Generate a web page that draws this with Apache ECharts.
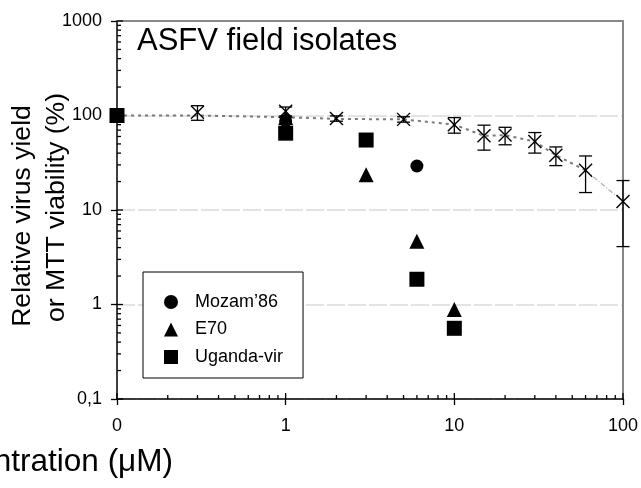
<!DOCTYPE html>
<html>
<head>
<meta charset="utf-8">
<script src="https://cdn.jsdelivr.net/npm/echarts@6/dist/echarts.min.js"></script>
<style>
  html, body { margin: 0; padding: 0; background: #fff; }
  #chart { width: 641px; height: 488px; }
</style>
</head>
<body>
<div id="chart"></div>
<script>
// Axis ticks: the untreated control ("0") sits at 0.1 on the log axis
const xTicks = [0.1, 1, 10, 100];
const xTickLabels = ['0', '1', '10', '100'];
const yTicks = [0.1, 1, 10, 100, 1000];
const yTickLabels = ['0,1', '1', '10', '100', '1000'];

// MTT viability: concentration (µM), mean (%), error (%)
const mttConc = [0.3, 1, 2, 5, 10, 15, 20, 30, 40, 60, 100];
const mttMean = [108, 111, 93, 91, 80, 61, 62, 53, 38, 26.3, 12.3];
const mttErr  = [19, 12, 6, 6, 15, 18, 13, 13, 8.5, 11, 8.2];

// Dotted trend curve through the viability data
const trendConc = [0.1, 0.3, 1, 2, 5, 10, 15, 20, 30, 40, 60, 100];
const trendVal  = [100, 100, 96, 92, 91, 80, 61, 62, 53, 38, 26.3, 12.3];

// Relative virus yield of the field isolates
const mozamConc  = [0.1, 1, 6];
const mozamYield = [100, 88, 29.2];
const e70Conc    = [0.1, 1, 3, 6, 10];
const e70Yield   = [100, 95, 23.6, 4.67, 0.885];
const ugandaConc  = [0.1, 1, 3, 6, 10];
const ugandaYield = [100, 65, 55, 1.85, 0.56];

const FONT = "'Liberation Sans', Arial, sans-serif";
const zip = (xs, ys) => xs.map((x, i) => [x, ys[i]]);

function tickLabel(ticks, labels) {
  return function (v) {
    let best = 0, bd = Infinity;
    ticks.forEach((t, i) => {
      const d = Math.abs(Math.log10(t) - Math.log10(v));
      if (d < bd) { bd = d; best = i; }
    });
    return labels[best];
  };
}

// Minor (2..9 per decade) and inner halves of major ticks
const minorSteps = [2, 3, 4, 5, 6, 7, 8, 9];
const tickData = [];
xTicks.slice(0, -1).forEach(d => minorSteps.forEach(m => tickData.push([d * m, yTicks[0], 0])));
xTicks.forEach(d => tickData.push([d, yTicks[0], 1]));
yTicks.slice(0, -1).forEach(d => minorSteps.forEach(m => tickData.push([xTicks[0], d * m, 2])));
yTicks.forEach(d => tickData.push([xTicks[0], d, 3]));

function seg(x1, y1, x2, y2, w) {
  return { type: 'line', shape: { x1, y1, x2, y2 }, style: { stroke: '#000', lineWidth: w || 1.3 } };
}

const markStyle = { color: '#000', opacity: 1 };

const chart = echarts.init(document.getElementById('chart'), null, { renderer: 'canvas' });

chart.setOption({
  backgroundColor: '#fff',
  animation: false,
  textStyle: { fontFamily: FONT },
  grid: { left: 117, right: 18, top: 21, bottom: 89, containLabel: false },
  xAxis: [{
    type: 'log', logBase: 10, min: xTicks[0], max: xTicks[xTicks.length - 1],
    axisLine: { show: true, lineStyle: { color: '#000', width: 1.5 } },
    axisTick: { show: true, inside: false, length: 6, lineStyle: { color: '#000', width: 1.3 } },
    axisLabel: { margin: 18, fontSize: 18, color: '#000', fontFamily: FONT, formatter: tickLabel(xTicks, xTickLabels) },
    splitLine: { show: false }, minorTick: { show: false }
  }, {
    type: 'value', min: 0, max: 1, position: 'top',
    axisLine: { show: true, onZero: false, lineStyle: { color: '#888', width: 2 } },
    axisTick: { show: false }, axisLabel: { show: false }, splitLine: { show: false }
  }],
  yAxis: [{
    type: 'log', logBase: 10, min: yTicks[0], max: yTicks[yTicks.length - 1],
    axisLine: { show: true, lineStyle: { color: '#000', width: 1.5 } },
    axisTick: { show: true, inside: false, length: 6, lineStyle: { color: '#000', width: 1.3 } },
    axisLabel: { margin: 15, fontSize: 18, color: '#000', fontFamily: FONT, formatter: tickLabel(yTicks, yTickLabels) },
    splitLine: { show: true, lineStyle: { color: '#dadada', width: 1.5, type: [18, 3] } }
  }, {
    type: 'value', min: 0, max: 1, position: 'right',
    axisLine: { show: true, onZero: false, lineStyle: { color: '#888', width: 2 } },
    axisTick: { show: false }, axisLabel: { show: false }, splitLine: { show: false }
  }],
  legend: {
    orient: 'vertical', left: 143, top: 272,
    padding: [21, 20, 12, 21], itemGap: 9.5,
    itemWidth: 14, itemHeight: 14,
    backgroundColor: '#fff', borderColor: '#000', borderWidth: 1, borderRadius: 0,
    itemStyle: { opacity: 1 },
    textStyle: { fontSize: 18, lineHeight: 18, color: '#000', fontFamily: FONT, padding: [0, 0, 0, 12] },
    data: ['Mozam\u201986', 'E70', 'Uganda-vir']
  },
  graphic: [
    { type: 'text', x: 137, y: 41, z: 10,
      style: { text: 'ASFV field isolates', font: '31px ' + FONT, fill: '#000',
               textAlign: 'left', textVerticalAlign: 'middle', align: 'left', verticalAlign: 'middle' } },
    { type: 'text', x: 22.8, y: 216, rotation: Math.PI / 2,
      style: { text: 'Relative virus yield', font: '26.6px ' + FONT, fill: '#000',
               textAlign: 'center', textVerticalAlign: 'middle', align: 'center', verticalAlign: 'middle' } },
    { type: 'text', x: 56.8, y: 207.5, rotation: Math.PI / 2,
      style: { text: 'or MTT viability (%)', font: '26.6px ' + FONT, fill: '#000',
               textAlign: 'center', textVerticalAlign: 'middle', align: 'center', verticalAlign: 'middle' } },
    { type: 'text', x: 173, y: 462,
      style: { text: 'Concentration (\u03bcM)', font: '31.5px ' + FONT, fill: '#000',
               textAlign: 'right', textVerticalAlign: 'middle', align: 'right', verticalAlign: 'middle' } }
  ],
  series: [
    {
      name: 'ticks', type: 'custom', silent: true, z: 3,
      data: tickData,
      renderItem: function (params, api) {
        const kind = api.value(2);
        const p = api.coord([api.value(0), api.value(1)]);
        if (kind === 0) return seg(p[0], p[1], p[0], p[1] - 4);
        if (kind === 1) return seg(p[0], p[1], p[0], p[1] - 6);
        if (kind === 2) return seg(p[0], p[1], p[0] + 4, p[1]);
        return seg(p[0], p[1], p[0] + 6, p[1]);
      }
    },
    {
      name: 'trend', type: 'line', z: 2, symbol: 'none', silent: true,
      data: zip(trendConc, trendVal).slice(0, -1),
      lineStyle: { color: '#7a7a7a', width: 2, type: [3, 4] }
    },
    {
      name: 'trend tail', type: 'line', z: 2, symbol: 'none', silent: true,
      data: zip(trendConc, trendVal).slice(-2),
      lineStyle: { color: '#b0b0b0', width: 1.2, type: [5, 2, 1, 2] }
    },
    {
      name: 'MTT', type: 'custom', z: 4,
      data: mttConc.map((x, i) => [x, mttMean[i], mttErr[i]]),
      renderItem: function (params, api) {
        const x = api.value(0), y = api.value(1), e = api.value(2);
        const c = api.coord([x, y]);
        const hi = api.coord([x, y + e])[1];
        const lo = api.coord([x, y - e])[1];
        const cw = 6.5, m = 6.5;
        return { type: 'group', children: [
          seg(c[0], hi, c[0], lo),
          seg(c[0] - cw, hi, c[0] + cw, hi),
          seg(c[0] - cw, lo, c[0] + cw, lo),
          seg(c[0] - m, c[1] - m, c[0] + m, c[1] + m, 1.4),
          seg(c[0] - m, c[1] + m, c[0] + m, c[1] - m, 1.4)
        ] };
      }
    },
    {
      name: 'Mozam\u201986', type: 'scatter', z: 5, clip: false,
      symbol: 'circle', symbolSize: 13, itemStyle: markStyle,
      data: zip(mozamConc, mozamYield)
    },
    {
      name: 'E70', type: 'scatter', z: 5, clip: false,
      symbol: 'triangle', symbolSize: 15, itemStyle: markStyle,
      data: zip(e70Conc, e70Yield)
    },
    {
      name: 'Uganda-vir', type: 'scatter', z: 5, clip: false,
      symbol: 'rect', symbolSize: 15, itemStyle: markStyle,
      data: zip(ugandaConc, ugandaYield)
    }
  ]
});
</script>
</body>
</html>
